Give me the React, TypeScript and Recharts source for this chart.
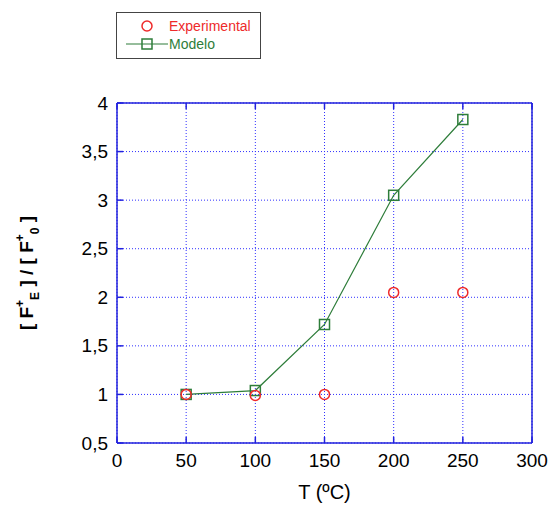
import React from 'react';
import {
  ComposedChart,
  Line,
  Scatter,
  XAxis,
  YAxis,
  CartesianGrid,
} from 'recharts';

// Temperatures (ºC)
const temps = [50, 100, 150, 200, 250];
// [F+E]/[F+0] measured
const experimental = [1.0, 0.99, 1.0, 2.05, 2.05];
// [F+E]/[F+0] model
const modelo = [1.0, 1.04, 1.72, 3.05, 3.83];

const xTicks = [0, 50, 100, 150, 200, 250, 300];
const yTicks = [0.5, 1, 1.5, 2, 2.5, 3, 3.5, 4];

const data = temps.map((t, i) => ({ t, exp: experimental[i], model: modelo[i] }));

const FONT = '"Liberation Sans", Arial, sans-serif';
const BLUE = '#2222dd';
const GRID = '#3030ff';
const RED = '#ee2a2a';
const GREEN = '#2e7d3a';

const fmt = (v: number) => String(v).replace('.', ',');

// inward tick mark + outside label, matlab style
const makeTick = (side: 'bottom' | 'top' | 'left' | 'right') => (props: any) => {
  const { x, y, payload } = props;
  const len = 6;
  if (side === 'bottom') {
    return (
      <g>
        <line x1={x} y1={y} x2={x} y2={y - len} stroke={BLUE} strokeWidth={1.5} />
        <text x={x} y={y + 17} textAnchor="middle" dominantBaseline="central" fontSize={19} fontFamily={FONT} fill="#000">
          {fmt(payload.value)}
        </text>
      </g>
    );
  }
  if (side === 'top') {
    return <line x1={x} y1={y} x2={x} y2={y + len} stroke={BLUE} strokeWidth={1.5} />;
  }
  if (side === 'left') {
    return (
      <g>
        <line x1={x} y1={y} x2={x + len} y2={y} stroke={BLUE} strokeWidth={1.5} />
        <text x={x - 9} y={y} textAnchor="end" dominantBaseline="central" fontSize={19} fontFamily={FONT} fill="#000">
          {fmt(payload.value)}
        </text>
      </g>
    );
  }
  return <line x1={x} y1={y} x2={x - len} y2={y} stroke={BLUE} strokeWidth={1.5} />;
};

const CircleDot = (props: any) => {
  const { cx, cy } = props;
  return <circle cx={cx} cy={cy} r={5} fill="none" stroke={RED} strokeWidth={1.5} />;
};

const SquareDot = (props: any) => {
  const { cx, cy, index } = props;
  return <rect key={index} x={cx - 5} y={cy - 5} width={10} height={10} fill="none" stroke={GREEN} strokeWidth={1.5} />;
};

const YLabel = (props: any) => {
  const vb = props.viewBox;
  const cy = vb.y + vb.height / 2;
  const cx = 33;
  return (
    <text
      x={cx}
      y={cy}
      transform={`rotate(-90 ${cx} ${cy})`}
      textAnchor="middle"
      fontSize={19}
      fontWeight="bold"
      fontFamily={FONT}
      fill="#000"
    >
      <tspan>[ F</tspan>
      <tspan fontSize={12} dy={-9}>+</tspan>
      <tspan fontSize={12} dy={15}>E</tspan>
      <tspan dy={-6}> ] / [ F</tspan>
      <tspan fontSize={12} dy={-9}>+</tspan>
      <tspan fontSize={12} dy={15}>0</tspan>
      <tspan dy={-6}> ]</tspan>
    </text>
  );
};

const XLabel = (props: any) => {
  const vb = props.viewBox;
  const cx = vb.x + vb.width / 2;
  return (
    <text x={cx} y={492} textAnchor="middle" dominantBaseline="central" fontSize={20} fontFamily={FONT} fill="#000">
      T (ºC)
    </text>
  );
};

export default function App() {
  return (
    <div style={{ position: 'absolute', left: 0, top: 0, width: 555, height: 505, background: '#fff' }}>
      {/* legend box */}
      <div
        style={{
          position: 'absolute',
          left: 116,
          top: 12,
          width: 143,
          height: 45,
          border: '1px solid #444',
          fontFamily: FONT,
          fontSize: 14,
          zIndex: 2,
        }}
      >
        <div style={{ position: 'absolute', left: 9, top: 5, display: 'flex', alignItems: 'center' }}>
          <svg width={42} height={14}>
            <circle cx={21} cy={7} r={5} fill="none" stroke={RED} strokeWidth={1.5} />
          </svg>
          <span style={{ color: RED, marginLeft: 1 }}>Experimental</span>
        </div>
        <div style={{ position: 'absolute', left: 9, top: 23, display: 'flex', alignItems: 'center' }}>
          <svg width={42} height={14}>
            <line x1={0} y1={7} x2={42} y2={7} stroke={GREEN} strokeWidth={1.2} />
            <rect x={16} y={2} width={10} height={10} fill="none" stroke={GREEN} strokeWidth={1.5} />
          </svg>
          <span style={{ color: GREEN, marginLeft: 1 }}>Modelo</span>
        </div>
      </div>

      <ComposedChart
        width={555}
        height={505}
        data={data}
        margin={{ top: 98, right: 18, bottom: 22, left: 67 }}
      >
        <CartesianGrid xAxisId="b" yAxisId="l" stroke={GRID} strokeDasharray="1 2" strokeWidth={1} />
        <XAxis
          xAxisId="b"
          dataKey="t"
          type="number"
          domain={[0, 300]}
          ticks={xTicks}
          height={40}
          tickSize={0}
          tickMargin={0}
          tickLine={false}
          axisLine={{ stroke: BLUE, strokeWidth: 1.5 }}
          tick={makeTick('bottom')}
          interval={0}
          label={<XLabel />}
        />
        <XAxis
          xAxisId="t"
          orientation="top"
          dataKey="t"
          type="number"
          domain={[0, 300]}
          ticks={xTicks}
          height={5}
          tickSize={0}
          tickMargin={0}
          tickLine={false}
          axisLine={{ stroke: BLUE, strokeWidth: 1.5 }}
          tick={makeTick('top')}
          interval={0}
        />
        <YAxis
          yAxisId="l"
          type="number"
          domain={[0.5, 4]}
          ticks={yTicks}
          width={50}
          tickSize={0}
          tickMargin={0}
          tickLine={false}
          axisLine={{ stroke: BLUE, strokeWidth: 1.5 }}
          tick={makeTick('left')}
          interval={0}
          label={<YLabel />}
        />
        <YAxis
          yAxisId="r"
          orientation="right"
          type="number"
          domain={[0.5, 4]}
          ticks={yTicks}
          width={5}
          tickSize={0}
          tickMargin={0}
          tickLine={false}
          axisLine={{ stroke: BLUE, strokeWidth: 1.5 }}
          tick={makeTick('right')}
          interval={0}
        />
        <Line
          xAxisId="b"
          yAxisId="l"
          dataKey="model"
          stroke={GREEN}
          strokeWidth={1.2}
          type="linear"
          dot={<SquareDot />}
          isAnimationActive={false}
        />
        <Scatter
          xAxisId="b"
          yAxisId="l"
          dataKey="exp"
          shape={<CircleDot />}
          isAnimationActive={false}
        />
      </ComposedChart>
    </div>
  );
}
